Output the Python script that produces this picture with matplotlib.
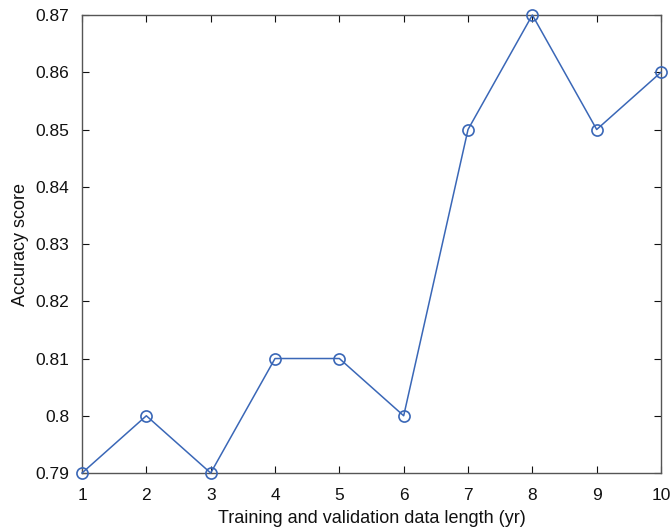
import matplotlib
matplotlib.use("Agg")
import matplotlib.pyplot as plt

years = [1, 2, 3, 4, 5, 6, 7, 8, 9, 10]
accuracy = [0.79, 0.80, 0.79, 0.81, 0.81, 0.80, 0.85, 0.87, 0.85, 0.86]
yticks = [0.79, 0.80, 0.81, 0.82, 0.83, 0.84, 0.85, 0.86, 0.87]
yticklabels = ["0.79", "0.8", "0.81", "0.82", "0.83", "0.84", "0.85", "0.86", "0.87"]

plt.rcParams['font.family'] = ['Liberation Sans', 'DejaVu Sans']
fig = plt.figure(figsize=(6.7, 5.3), dpi=100)
ax = fig.add_axes([0.1224, 0.1075, 0.8642, 0.8642])
color = '#3a67b7'
ax.plot(years, accuracy, color=color, lw=1.1, marker='o', markersize=8,
        markerfacecolor='none', markeredgecolor=color, markeredgewidth=1.2, clip_on=False, zorder=3)
ax.set_xlim(1, 10)
ax.set_ylim(0.79, 0.87)
ax.set_xticks(years)
ax.set_yticks(yticks)
ax.set_yticklabels(yticklabels)
ax.tick_params(direction='in', top=True, right=True, length=5, width=0.8, labelsize=12.5, colors='#111111')
ax.tick_params(axis='x', pad=11)
ax.tick_params(axis='y', pad=9)
for s in ax.spines.values():
    s.set_color('#555555')
    s.set_linewidth(1.0)
ax.set_xlabel('Training and validation data length (yr)', fontsize=13, color='#111111', labelpad=5)
ax.set_ylabel('Accuracy score', fontsize=13, color='#111111', labelpad=5)
fig.savefig('out.png', dpi=100)
